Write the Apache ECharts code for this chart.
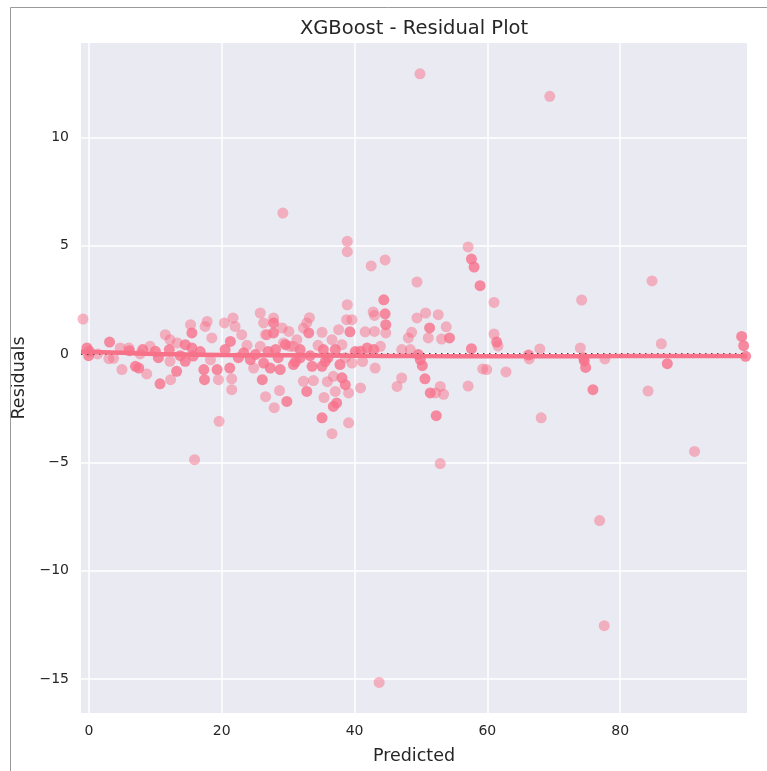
<!DOCTYPE html>
<html><head><meta charset="utf-8">
<script src="https://cdn.jsdelivr.net/npm/echarts@6/dist/echarts.min.js"></script>
<style>html,body{margin:0;padding:0;background:#fff}#c{width:767px;height:771px}</style>
</head><body><div id="c"></div>
<script>
const titleText = 'XGBoost - Residual Plot';
const xName = 'Predicted';
const yName = 'Residuals';
const xRange = [-1.2, 99.1];
const yRange = [-16.57, 14.35];

// single (semi-transparent) observations: [predicted, residual]
const residLight = [
 [49.85,12.93],[69.4,11.89],[29.2,6.5],[38.9,5.2],[38.9,4.72],[42.5,4.06],[44.6,4.34],[57.1,4.94],
 [61.0,2.38],[49.4,3.32],[42.8,1.94],[38.9,2.27],[50.7,1.89],[52.6,1.81],[27.8,1.66],[33.2,1.67],
 [74.2,2.49],[84.8,3.37],[53.8,1.25],[53.1,0.69],[61.0,0.92],[61.6,0.37],[66.3,-0.23],[67.9,0.23],
 [74.0,0.28],[77.7,-0.23],[86.2,0.47],[59.3,-0.69],[59.9,-0.72],[62.8,-0.83],[57.1,-1.48],[53.4,-1.86],
 [52.9,-1.5],[84.2,-1.71],[68.1,-2.95],[52.9,-5.06],[76.9,-7.69],[77.6,-12.54],[91.2,-4.5],[43.7,-15.16],
 [15.9,-4.88],[19.6,-3.11],[36.6,-3.68],[35.4,-2.01],[27.9,-2.48],[26.6,-1.97],[28.7,-1.69],[33.8,-1.23],
 [35.9,-1.28],
 [-0.9,1.61],[3.0,-0.22],[4.7,0.28],[4.97,-0.72],[6.0,0.28],[8.7,-0.92],[9.2,0.35],[11.5,0.89],
 [12.3,-1.19],[12.2,0.66],[12.2,-0.34],[13.3,0.51],[15.3,1.35],[17.5,1.27],[17.8,1.5],[18.5,0.74],
 [19.5,-1.19],[20.4,1.43],[21.5,-1.15],[21.5,-1.65],[21.7,1.66],[22.0,1.27],[23.0,0.89],[24.8,-0.65],
 [26.3,1.43],[26.6,0.89],
 [38.8,1.58],[39.6,1.58],[41.6,1.02],[43.0,1.04],[43.0,1.78],[44.7,0.97],[49.4,1.66],[48.6,1.0],
 [48.1,0.74],[51.1,0.74],[29.1,1.2],[30.1,1.04],[31.3,0.66],[32.3,1.2],[32.8,1.43],[35.1,1.0],
 [36.6,0.66],[37.6,1.12],[38.1,0.43],[30.8,0.35],[29.3,0.51],[26.8,0.89],[25.8,0.35],[43.1,-0.65],
 [43.9,0.35],[47.1,0.2],[48.4,0.2],[52.2,-1.8],[47.1,-1.11],[46.4,-1.5],[39.1,-3.18],[32.3,-1.26],
 [39.1,-1.8],[40.9,-1.57],[37.1,-1.73],[36.8,-1.03],[39.6,-0.42],[30.3,0.35],[25.8,1.89],
 [1.3,0.0],[3.7,-0.2],[7.7,0.0],[18.3,-0.27],[23.8,0.4],[34.5,0.4],[38.6,-0.17],[41.2,-0.35]
];

// overlapping / repeated observations (appear more saturated)
const residDense = [
 [3.1,0.55],[-0.3,0.28],[-0.05,-0.08],[0.05,0.12],[6.1,0.15],[7.0,-0.57],[7.5,-0.65],[8.1,0.2],
 [10.0,0.12],[10.7,-1.38],[12.1,0.2],[13.2,-0.8],[14.5,0.43],[15.5,0.97],[15.7,-0.1],[15.5,0.28],
 [14.5,-0.34],[17.3,-0.72],[17.4,-1.19],[19.3,-0.72],[21.3,0.58],[21.2,-0.65],[23.3,0.05],[24.3,-0.26],
 [26.1,-1.19],
 [44.4,2.5],[44.6,1.85],[39.3,1.02],[44.7,1.35],[51.3,1.2],[54.3,0.74],[27.8,1.43],[27.8,0.97],
 [33.1,0.97],
 [35.3,0.2],[37.1,0.2],[35.6,-0.34],[37.8,-0.49],[40.9,0.12],[41.9,0.28],[42.9,0.2],[49.6,-0.03],
 [49.9,-0.26],[50.2,-0.54],[50.6,-1.15],[51.4,-1.8],[52.3,-2.85],[35.1,-2.95],[37.3,-2.26],[36.8,-2.42],
 [32.8,-1.73],[29.8,-2.19],[38.6,-1.42],[33.6,-0.57],[35.1,-0.57],[38.1,-1.1],[28.8,-0.72],[30.8,-0.49],
 [31.8,-0.18],[26.3,-0.42],[28.1,0.2],[27.3,-0.65],
 [61.4,0.55],[57.6,0.24],[66.2,-0.05],[74.6,-0.32],[74.8,-0.62],[74.5,-0.18],[87.1,-0.45],[98.3,0.81],
 [98.6,0.38],[98.9,-0.11],[99.3,0.3],[75.9,-1.65],[57.6,4.38],[58.0,4.01],[58.9,3.15],
 [10.45,-0.17],[13.75,-0.08],[16.76,0.11],[20.5,0.2],[22.5,-0.17],[25.05,-0.03],[27.0,0.11],[28.5,-0.17],
 [29.6,0.43],[31.1,-0.36],[31.8,0.2],[33.3,-0.08],[36.0,-0.17],[40.1,0.11]
];

// lowess fit
const lowessX = [-1.2, 5, 10, 20, 30, 40, 50, 60, 70, 80, 90, 99.1];
const lowessY = [0.1, 0.05, 0.0, -0.05, -0.06, -0.08, -0.1, -0.11, -0.11, -0.1, -0.1, -0.1];

const PINK = '#f77189';
const TXT = '#262626';
const FONT = 'DejaVu Sans';

const chart = echarts.init(document.getElementById('c'), null, {renderer: 'canvas'});
chart.setOption({
  animation: false,
  backgroundColor: '#ffffff',
  title: {
    text: titleText, left: 414, top: 19, textAlign: 'center', padding: 0,
    textStyle: {fontFamily: FONT, fontSize: 19.5, fontWeight: 'normal', color: TXT}
  },
  graphic: [{
    type: 'polyline', silent: true, z: 100,
    shape: {points: [[10.5, 771], [10.5, 7.5], [767, 7.5]]},
    style: {stroke: '#9a9a9a', lineWidth: 1, fill: null}
  }],
  grid: {left: 81, right: 20, top: 43, bottom: 58, show: true, backgroundColor: '#eaeaf2', borderWidth: 0},
  xAxis: {
    type: 'value', min: xRange[0], max: xRange[1], splitNumber: 5,
    name: xName, nameLocation: 'middle', nameGap: 34,
    nameTextStyle: {fontFamily: FONT, fontSize: 17.5, color: TXT},
    axisLine: {show: false}, axisTick: {show: false},
    axisLabel: {fontFamily: FONT, fontSize: 14, color: TXT, margin: 11, showMinLabel: false, showMaxLabel: false},
    splitLine: {show: true, showMinLine: false, showMaxLine: false, lineStyle: {color: '#ffffff', width: 1.5}}
  },
  yAxis: {
    type: 'value', min: yRange[0], max: yRange[1], splitNumber: 5,
    name: yName, nameLocation: 'middle', nameGap: 53, nameRotate: 90,
    nameTextStyle: {fontFamily: FONT, fontSize: 17.5, color: TXT},
    axisLine: {show: false}, axisTick: {show: false},
    axisLabel: {fontFamily: FONT, fontSize: 14, color: TXT, margin: 12, showMinLabel: false, showMaxLabel: false,
      formatter: v => (v < 0 ? '\u2212' + Math.abs(v) : String(v))},
    splitLine: {show: true, showMinLine: false, showMaxLine: false, lineStyle: {color: '#ffffff', width: 1.5}}
  },
  series: [
    {type: 'scatter', data: residLight, symbol: 'circle', symbolSize: 11, clip: true,
     itemStyle: {color: PINK, opacity: 0.5}, z: 2},
    {type: 'scatter', data: residDense, symbol: 'circle', symbolSize: 11, clip: true,
     itemStyle: {color: PINK, opacity: 0.8}, z: 2},
    {type: 'line', data: [], z: 3,
     markLine: {silent: true, z: 3, symbol: 'none', label: {show: false},
       lineStyle: {color: '#3a3a3a', type: [1.5, 4.5], width: 1.8}, data: [{yAxis: 0}]}},
    {type: 'line', data: lowessX.map((x, i) => [x, lowessY[i]]), showSymbol: false, smooth: true, z: 6,
     lineStyle: {color: PINK, width: 4.5}, itemStyle: {color: PINK}}
  ]
});
</script></body></html>
